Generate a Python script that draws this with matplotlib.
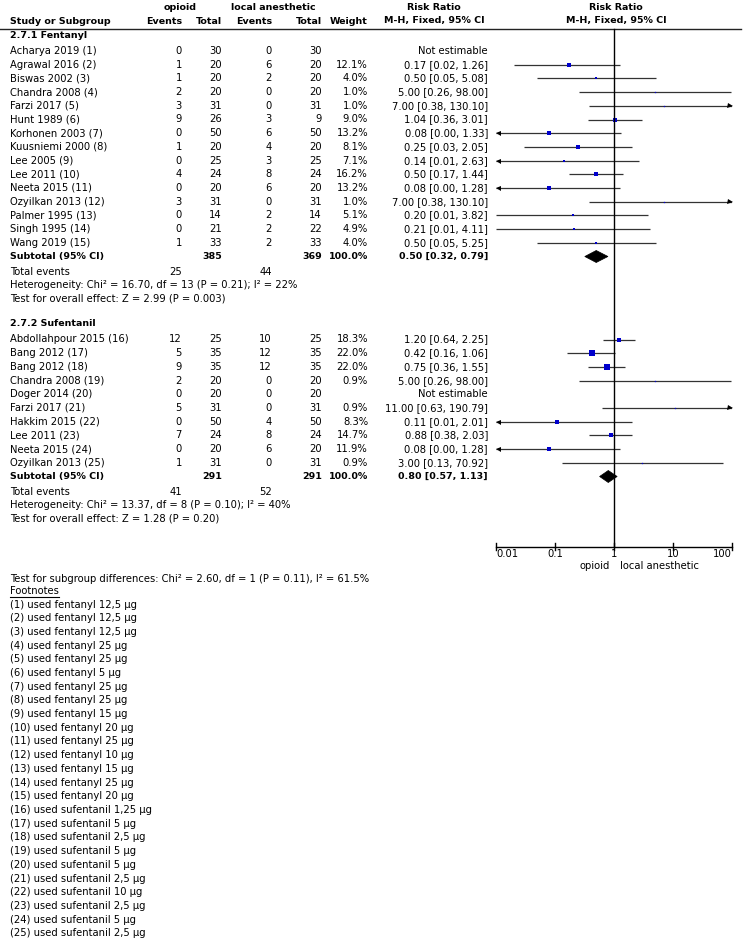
import numpy as np
import matplotlib.pyplot as plt
from matplotlib.patches import Polygon

plt.rcParams['font.family'] = 'DejaVu Sans'
FS = 7.2
FSB = 6.8

# 2.7.1 Fentanyl
fen_names = ['Acharya 2019 (1)', 'Agrawal 2016 (2)', 'Biswas 2002 (3)', 'Chandra 2008 (4)',
             'Farzi 2017 (5)', 'Hunt 1989 (6)', 'Korhonen 2003 (7)', 'Kuusniemi 2000 (8)',
             'Lee 2005 (9)', 'Lee 2011 (10)', 'Neeta 2015 (11)', 'Ozyilkan 2013 (12)',
             'Palmer 1995 (13)', 'Singh 1995 (14)', 'Wang 2019 (15)']
fen_ev1 = [0, 1, 1, 2, 3, 9, 0, 1, 0, 4, 0, 3, 0, 0, 1]
fen_n1 = [30, 20, 20, 20, 31, 26, 50, 20, 25, 24, 20, 31, 14, 21, 33]
fen_ev2 = [0, 6, 2, 0, 0, 3, 6, 4, 3, 8, 6, 0, 2, 2, 2]
fen_n2 = [30, 20, 20, 20, 31, 9, 50, 20, 25, 24, 20, 31, 14, 22, 33]
fen_w = [np.nan, 12.1, 4.0, 1.0, 1.0, 9.0, 13.2, 8.1, 7.1, 16.2, 13.2, 1.0, 5.1, 4.9, 4.0]
fen_rr = [np.nan, 0.17, 0.50, 5.00, 7.00, 1.04, 0.08, 0.25, 0.14, 0.50, 0.08, 7.00, 0.20, 0.21, 0.50]
fen_lo = [np.nan, 0.02, 0.05, 0.26, 0.38, 0.36, 0.004, 0.03, 0.008, 0.17, 0.004, 0.38, 0.01, 0.01, 0.05]
fen_hi = [np.nan, 1.26, 5.08, 98.00, 130.10, 3.01, 1.33, 2.05, 2.63, 1.44, 1.28, 130.10, 3.82, 4.11, 5.25]
fen_sub = dict(n1=385, n2=369, rr=0.50, lo=0.32, hi=0.79, ev1=25, ev2=44)
fen_het = 'Heterogeneity: Chi² = 16.70, df = 13 (P = 0.21); I² = 22%'
fen_z = 'Test for overall effect: Z = 2.99 (P = 0.003)'

# 2.7.2 Sufentanil
suf_names = ['Abdollahpour 2015 (16)', 'Bang 2012 (17)', 'Bang 2012 (18)', 'Chandra 2008 (19)',
             'Doger 2014 (20)', 'Farzi 2017 (21)', 'Hakkim 2015 (22)', 'Lee 2011 (23)',
             'Neeta 2015 (24)', 'Ozyilkan 2013 (25)']
suf_ev1 = [12, 5, 9, 2, 0, 5, 0, 7, 0, 1]
suf_n1 = [25, 35, 35, 20, 20, 31, 50, 24, 20, 31]
suf_ev2 = [10, 12, 12, 0, 0, 0, 4, 8, 6, 0]
suf_n2 = [25, 35, 35, 20, 20, 31, 50, 24, 20, 31]
suf_w = [18.3, 22.0, 22.0, 0.9, np.nan, 0.9, 8.3, 14.7, 11.9, 0.9]
suf_rr = [1.20, 0.42, 0.75, 5.00, np.nan, 11.00, 0.11, 0.88, 0.08, 3.00]
suf_lo = [0.64, 0.16, 0.36, 0.26, np.nan, 0.63, 0.006, 0.38, 0.004, 0.13]
suf_hi = [2.25, 1.06, 1.55, 98.00, np.nan, 190.79, 2.01, 2.03, 1.28, 70.92]
suf_sub = dict(n1=291, n2=291, rr=0.80, lo=0.57, hi=1.13, ev1=41, ev2=52)
suf_het = 'Heterogeneity: Chi² = 13.37, df = 8 (P = 0.10); I² = 40%'
suf_z = 'Test for overall effect: Z = 1.28 (P = 0.20)'

subgroup_test = 'Test for subgroup differences: Chi² = 2.60, df = 1 (P = 0.11), I² = 61.5%'

fn_drug = ['fentanyl'] * 15 + ['sufentanil'] * 10
fn_dose = ['12,5', '12,5', '12,5', '25', '25', '5', '25', '25', '15', '20', '25', '10', '15',
           '25', '20', '1,25', '5', '2,5', '5', '5', '2,5', '10', '2,5', '5', '2,5']

ticks = [0.01, 0.1, 1, 10, 100]
tick_labels = ['0.01', '0.1', '1', '10', '100']

# layout (pixels)
W, H = 744, 943
STEP = 13.7
X_NAME, X_E1, X_N1, X_E2, X_N2, X_W, X_CI = 10, 182, 222, 272, 322, 368, 488

fig = plt.figure(figsize=(W / 100, H / 100), dpi=100)
ax = fig.add_axes([0, 0, 1, 1])
ax.set_xlim(0, W)
ax.set_ylim(H, 0)
ax.axis('off')

fx = fig.add_axes([496 / W, 0, (732 - 496) / W, 1])
fx.set_xscale('log')
fx.set_xlim(0.01, 100)
fx.set_ylim(H, 0)
fx.axis('off')
fx.patch.set_alpha(0)


def txt(x, y, s, ha='left', bold=False, **kw):
    return ax.text(x, y, s, ha=ha, va='center', fontsize=FSB if bold else FS,
                   fontweight='bold' if bold else 'normal', color='black', **kw)


# header
for x, s in [(180, 'opioid'), (273, 'local anesthetic'), (434, 'Risk Ratio'), (616, 'Risk Ratio')]:
    txt(x, 7, s, ha='center', bold=True)
txt(X_NAME, 21, 'Study or Subgroup', bold=True)
for x, s in [(X_E1, 'Events'), (X_N1, 'Total'), (X_E2, 'Events'), (X_N2, 'Total'), (X_W, 'Weight')]:
    txt(x, 21, s, ha='right', bold=True)
txt(434, 21, 'M-H, Fixed, 95% CI', ha='center', bold=True)
txt(616, 21, 'M-H, Fixed, 95% CI', ha='center', bold=True)
ax.plot([0, 741], [29, 29], color='#222222', lw=1)

y_axis = 546.5


def draw_group(y_head, title, names, ev1, n1, ev2, n2, w, rr, lo, hi, sub, het, z):
    txt(X_NAME, y_head, title, bold=True)
    ys = y_head + 16 + STEP * np.arange(len(names))
    for i, y in enumerate(ys):
        txt(X_NAME, y, names[i])
        txt(X_E1, y, str(ev1[i]), ha='right')
        txt(X_N1, y, str(n1[i]), ha='right')
        txt(X_E2, y, str(ev2[i]), ha='right')
        txt(X_N2, y, str(n2[i]), ha='right')
        if np.isnan(rr[i]):
            txt(X_CI, y, 'Not estimable', ha='right')
            continue
        txt(X_W, y, f'{w[i]:.1f}%', ha='right')
        txt(X_CI, y, f'{rr[i]:.2f} [{lo[i]:.2f}, {hi[i]:.2f}]', ha='right')
        a, b = max(lo[i], 0.01), min(hi[i], 100)
        fx.plot([a, b], [y, y], color='#333333', lw=0.9, solid_capstyle='butt')
        if lo[i] < 0.01:
            fx.plot(0.0108, y, marker='<', ms=3.6, color='black', mew=0, clip_on=False)
        if hi[i] > 100:
            fx.plot(92, y, marker='>', ms=3.6, color='black', mew=0, clip_on=False)
        fx.plot(rr[i], y, marker='s', ms=max(np.sqrt(w[i]) * 0.78, 0.9),
                color='#0000cc', mew=0)
    ys_sub = ys[-1] + STEP
    txt(X_NAME, ys_sub, 'Subtotal (95% CI)', bold=True)
    txt(X_N1, ys_sub, str(sub['n1']), ha='right', bold=True)
    txt(X_N2, ys_sub, str(sub['n2']), ha='right', bold=True)
    txt(X_W, ys_sub, '100.0%', ha='right', bold=True)
    txt(X_CI, ys_sub, f"{sub['rr']:.2f} [{sub['lo']:.2f}, {sub['hi']:.2f}]", ha='right', bold=True)
    fx.add_patch(Polygon([(sub['lo'], ys_sub), (sub['rr'], ys_sub - 6),
                          (sub['hi'], ys_sub), (sub['rr'], ys_sub + 6)],
                         closed=True, facecolor='black', edgecolor='black', lw=0.5))
    yt = ys_sub + 15.5
    txt(X_NAME, yt, 'Total events')
    txt(X_E1, yt, str(sub['ev1']), ha='right')
    txt(X_E2, yt, str(sub['ev2']), ha='right')
    txt(X_NAME, yt + 13.3, het)
    txt(X_NAME, yt + 26.6, z)


draw_group(35, '2.7.1 Fentanyl', fen_names, fen_ev1, fen_n1, fen_ev2, fen_n2,
           fen_w, fen_rr, fen_lo, fen_hi, fen_sub, fen_het, fen_z)
draw_group(323.5, '2.7.2 Sufentanil', suf_names, suf_ev1, suf_n1, suf_ev2, suf_n2,
           suf_w, suf_rr, suf_lo, suf_hi, suf_sub, suf_het, suf_z)

# line of no effect and axis
fx.plot([1, 1], [29, y_axis], color='black', lw=1)
fx.plot([ticks[0], ticks[-1]], [y_axis, y_axis], color='black', lw=1, clip_on=False)
for i, (t, lab) in enumerate(zip(ticks, tick_labels)):
    fx.plot([t, t], [y_axis - 3.5, y_axis + 3.5], color='black', lw=1, clip_on=False)
    ha = 'left' if i == 0 else ('right' if i == len(ticks) - 1 else 'center')
    fx.text(t, y_axis + 7.5, lab, ha=ha, va='center', fontsize=FS, clip_on=False)
txt(610, 566, 'opioid', ha='right')
txt(620, 566, 'local anesthetic', ha='left')

txt(X_NAME, 579, subgroup_test)

t = txt(X_NAME, 591, 'Footnotes')
fig.canvas.draw()
bb = t.get_window_extent(fig.canvas.get_renderer())
x1 = ax.transData.inverted().transform((bb.x1, bb.y0))[0]
ax.plot([X_NAME, x1], [596.5, 596.5], color='black', lw=0.8)

for i, (d, s) in enumerate(zip(fn_drug, fn_dose)):
    txt(X_NAME, 604.5 + STEP * i, f'({i + 1}) used {d} {s} µg')

fig.savefig('out.png', dpi=100)
